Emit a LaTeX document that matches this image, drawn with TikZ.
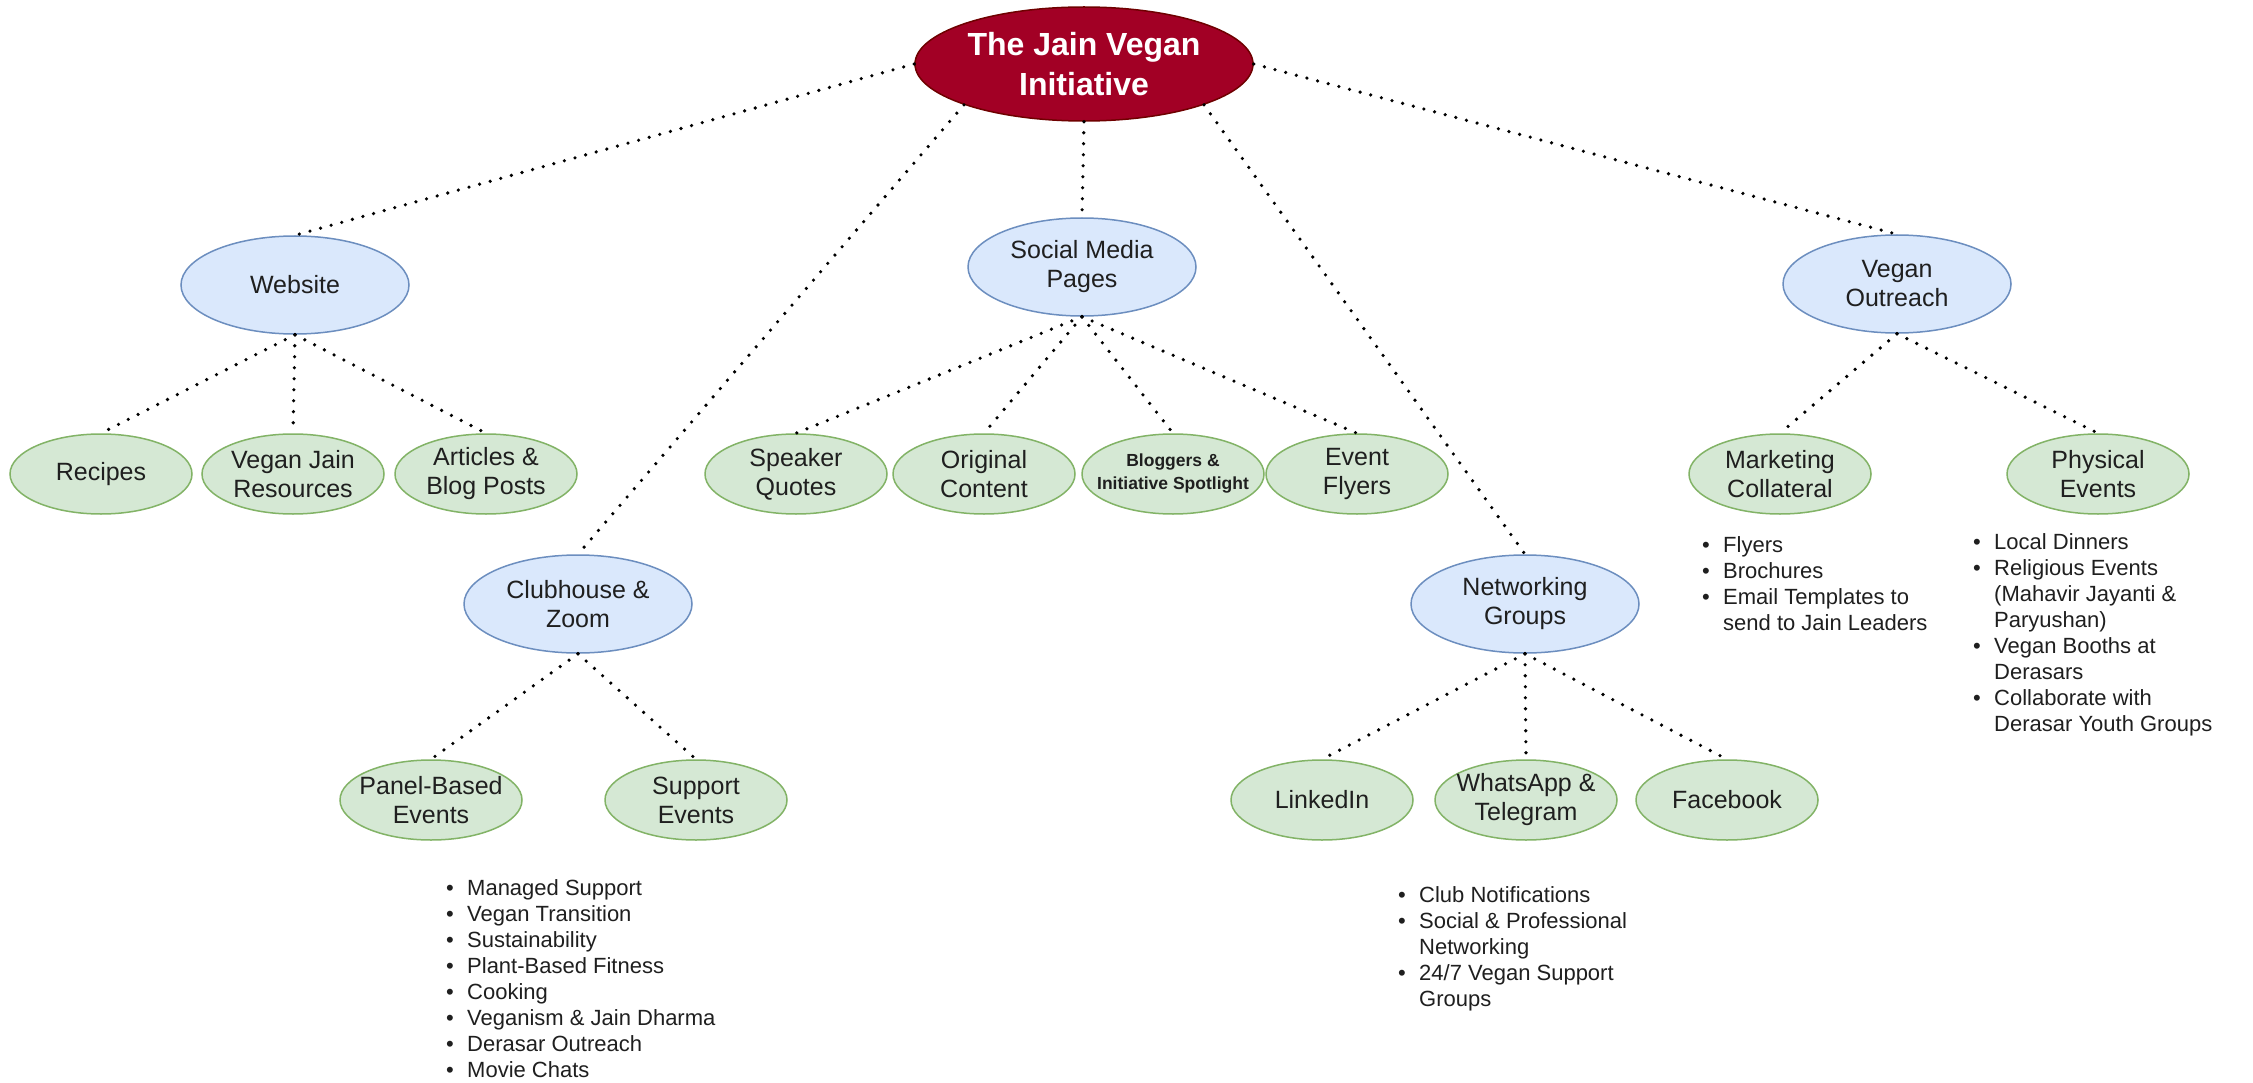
\documentclass[tikz,border=0pt]{standalone}
\usepackage{fontspec}
\setmainfont{Liberation Sans}
\usetikzlibrary{shapes.geometric}
\definecolor{rootred}{HTML}{A20025}
\definecolor{rootdraw}{HTML}{6F0000}
\definecolor{blueF}{HTML}{DAE8FC}
\definecolor{blueD}{HTML}{6C8EBF}
\definecolor{greenF}{HTML}{D5E8D4}
\definecolor{greenD}{HTML}{82B366}
\definecolor{txt}{HTML}{1F1F1F}
\newcommand{\bi}[1]{\makebox[21pt][l]{\textbullet}#1}
\newcommand{\bc}[1]{\hspace*{21pt}#1}
\begin{document}
\begin{tikzpicture}[x=1pt,y=-1pt,
 rootell/.style={ellipse, draw=rootdraw, fill=rootred, line width=1.5pt, minimum width=338pt, minimum height=114pt, inner sep=0pt},
 rootxt/.style={inner sep=0pt, text=white, align=center, font=\bfseries\fontsize{32}{40}\selectfont},
 blueell/.style={ellipse, draw=blueD, fill=blueF, line width=1.5pt, minimum width=228pt, minimum height=98pt, inner sep=0pt},
 greenell/.style={ellipse, draw=greenD, fill=greenF, line width=1.5pt, minimum width=182pt, minimum height=80pt, inner sep=0pt},
 ntxt/.style={inner sep=0pt, text=txt, align=center, font=\fontsize{25}{29}\selectfont},
 smalltxt/.style={inner sep=0pt, text=txt, align=center, font=\bfseries\fontsize{17.5}{23}\selectfont},
 link/.style={line width=3.6pt, line cap=round, dash pattern=on 0pt off 11pt, draw=black},
 blist/.style={anchor=north west, inner sep=0pt, align=left, text=txt, font=\fontsize{22}{26}\selectfont},
]
\useasboundingbox[fill=white] (0,0) rectangle (2253,1083);

% ellipses
\path
 (1084,64) node[rootell] (root) {}
 (295,285) node[blueell] (web) {}
 (1082,267) node[blueell] (smp) {}
 (1897,284) node[blueell] (vo) {}
 (578,604) node[blueell] (club) {}
 (1525,604) node[blueell] (net) {}
 (101,474) node[greenell] (rec) {}
 (293,474) node[greenell] (vjr) {}
 (486,474) node[greenell] (art) {}
 (796,474) node[greenell] (spk) {}
 (984,474) node[greenell] (orig) {}
 (1173,474) node[greenell] (blog) {}
 (1357,474) node[greenell] (evt) {}
 (1780,474) node[greenell] (mkt) {}
 (2098,474) node[greenell] (phys) {}
 (431,800) node[greenell] (panel) {}
 (696,800) node[greenell] (supp) {}
 (1322,800) node[greenell] (lnk) {}
 (1526,800) node[greenell] (wha) {}
 (1727,800) node[greenell] (fb) {};

% connectors
\draw[link] (root.west) -- (web.north);
\draw[link] (root.south) -- (smp.north);
\draw[link] (root.east) -- (vo.north);
\draw[link] (root.south west) -- (club.north);
\draw[link] (root.south east) -- (net.north);
\draw[link] (web.south) -- (rec.north);
\draw[link] (web.south) -- (vjr.north);
\draw[link] (web.south) -- (art.north);
\draw[link] (smp.south) -- (spk.north);
\draw[link] (smp.south) -- (orig.north);
\draw[link] (smp.south) -- (blog.north);
\draw[link] (smp.south) -- (evt.north);
\draw[link] (vo.south) -- (mkt.north);
\draw[link] (vo.south) -- (phys.north);
\draw[link] (club.south) -- (panel.north);
\draw[link] (club.south) -- (supp.north);
\draw[link] (net.south) -- (lnk.north);
\draw[link] (net.south) -- (wha.north);
\draw[link] (net.south) -- (fb.north);

% texts
\node[rootxt] (root-t) at (root) {The Jain Vegan\\Initiative};
\node[ntxt] (web-t) at (web) {Website};
\node[ntxt] (smp-t) at (smp) {Social Media\\Pages};
\node[ntxt] (vo-t) at (vo) {Vegan\\Outreach};
\node[ntxt] (club-t) at (club) {Clubhouse \&\\Zoom};
\node[ntxt] (net-t) at (net) {Networking\\Groups};
\node[ntxt] (rec-t) at (rec) {Recipes};
\node[ntxt] (vjr-t) at (vjr) {Vegan Jain\\Resources};
\node[ntxt] (art-t) at (art) {Articles \&\\Blog Posts};
\node[ntxt] (spk-t) at (spk) {Speaker\\Quotes};
\node[ntxt] (orig-t) at (orig) {Original\\Content};
\node[smalltxt] (blog-t) at (blog) {Bloggers \&\\Initiative Spotlight};
\node[ntxt] (evt-t) at (evt) {Event\\Flyers};
\node[ntxt] (mkt-t) at (mkt) {Marketing\\Collateral};
\node[ntxt] (phys-t) at (phys) {Physical\\Events};
\node[ntxt] (panel-t) at (panel) {Panel-Based\\Events};
\node[ntxt] (supp-t) at (supp) {Support\\Events};
\node[ntxt] (lnk-t) at (lnk) {LinkedIn};
\node[ntxt] (wha-t) at (wha) {WhatsApp \&\\Telegram};
\node[ntxt] (fb-t) at (fb) {Facebook};

% bullet lists
\node[blist] (club-list) at (446,879) {\bi{Managed Support}\\\bi{Vegan Transition}\\\bi{Sustainability}\\\bi{Plant-Based Fitness}\\\bi{Cooking}\\\bi{Veganism \& Jain Dharma}\\\bi{Derasar Outreach}\\\bi{Movie Chats}};
\node[blist] (net-list) at (1398,886) {\bi{Club Notifications}\\\bi{Social \& Professional}\\\bc{Networking}\\\bi{24/7 Vegan Support}\\\bc{Groups}};
\node[blist] (mkt-list) at (1702,536) {\bi{Flyers}\\\bi{Brochures}\\\bi{Email Templates to}\\\bc{send to Jain Leaders}};
\node[blist] (phys-list) at (1973,533) {\bi{Local Dinners}\\\bi{Religious Events}\\\bc{(Mahavir Jayanti \&}\\\bc{Paryushan)}\\\bi{Vegan Booths at}\\\bc{Derasars}\\\bi{Collaborate with}\\\bc{Derasar Youth Groups}};
\end{tikzpicture}
\end{document}
